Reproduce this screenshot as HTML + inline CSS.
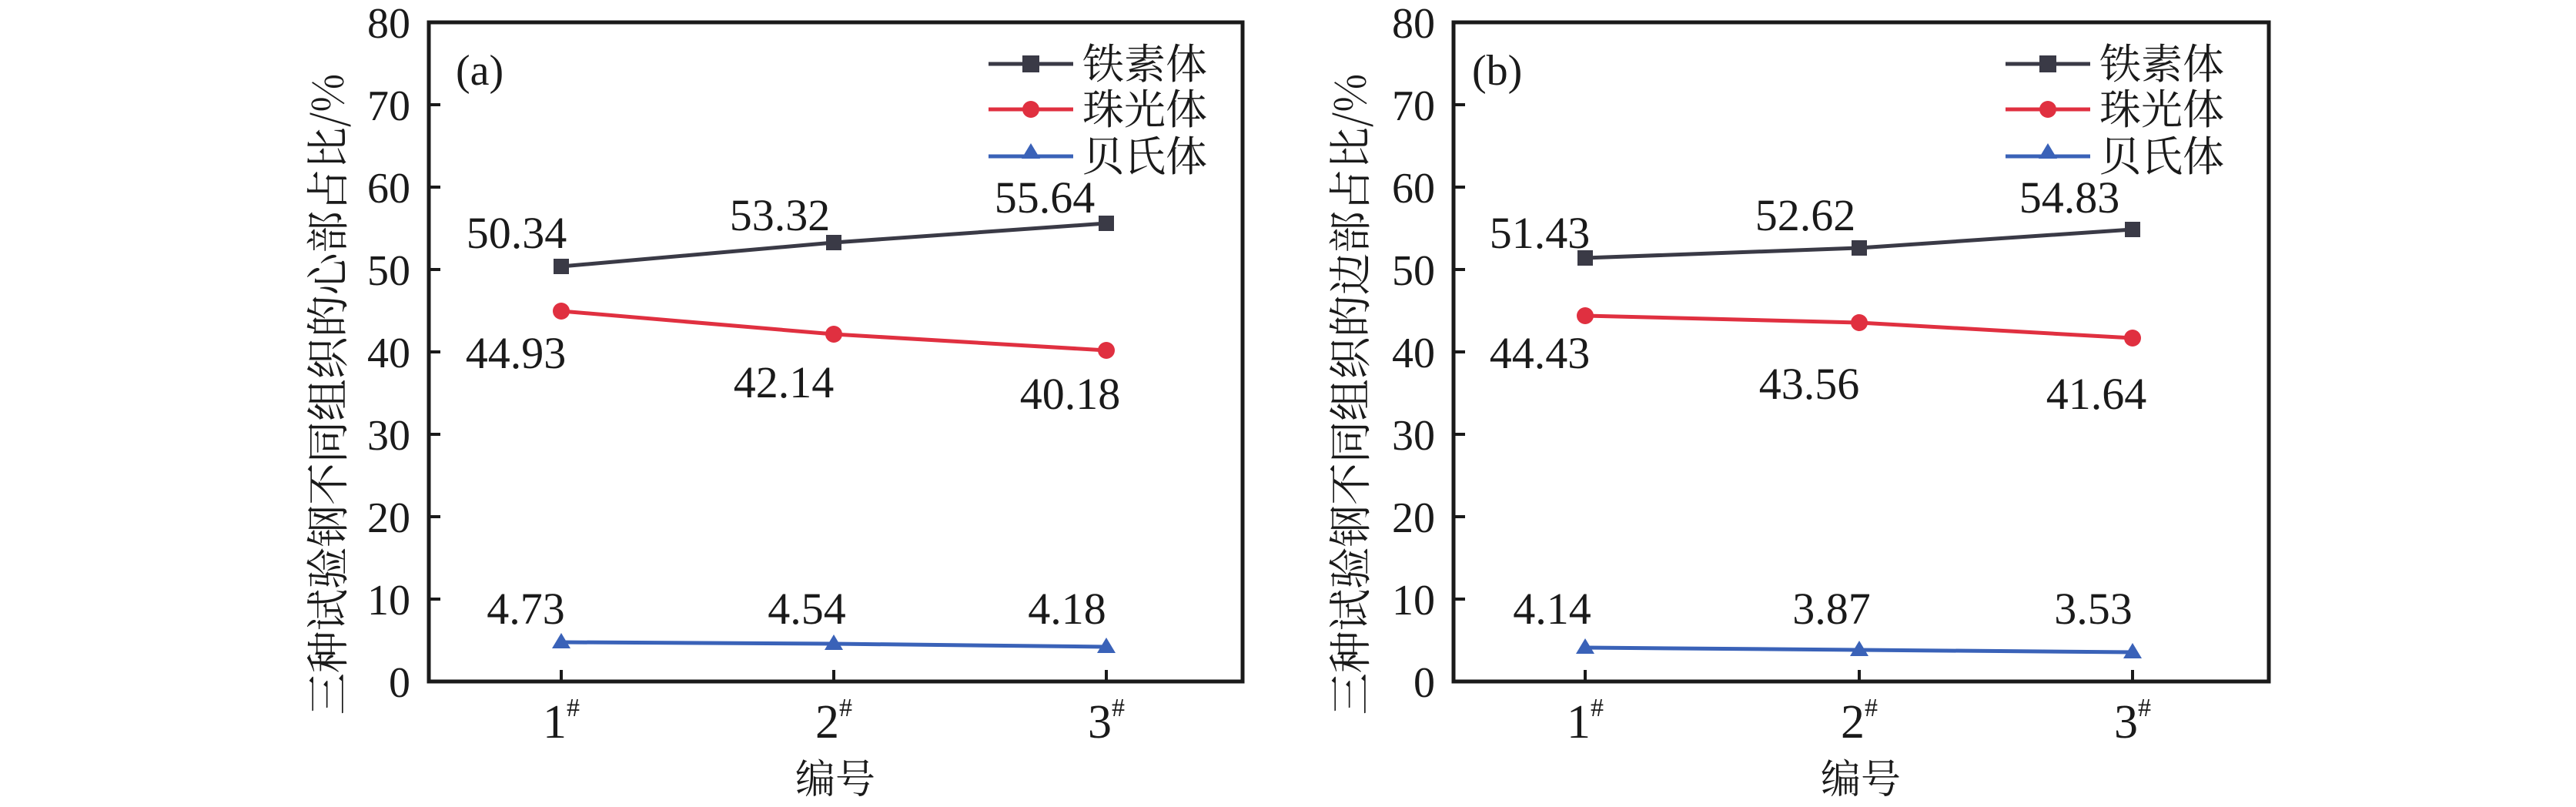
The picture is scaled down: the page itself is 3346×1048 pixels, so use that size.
<!DOCTYPE html>
<html><head><meta charset="utf-8"><style>
html,body{margin:0;padding:0;background:#fff;}
svg{display:block;}
svg text{font-family:"Liberation Serif","Times New Roman",serif;fill:#1a1a1a;}
svg text.cjk{font-family:"Noto Serif CJK SC","Liberation Serif",serif;}
</style></head><body>
<svg width="3346" height="1048" viewBox="0 0 3346 1048" xmlns="http://www.w3.org/2000/svg">
<!-- Panel A -->
<g>
<rect x="557" y="29" width="1057" height="856" fill="none" stroke="#1a1a1a" stroke-width="5"/>
<g stroke="#1a1a1a" stroke-width="4">
<line x1="557" y1="778" x2="572" y2="778"/><line x1="557" y1="671" x2="572" y2="671"/><line x1="557" y1="564" x2="572" y2="564"/><line x1="557" y1="457" x2="572" y2="457"/><line x1="557" y1="350" x2="572" y2="350"/><line x1="557" y1="243" x2="572" y2="243"/><line x1="557" y1="136" x2="572" y2="136"/>
<line x1="729" y1="885" x2="729" y2="870"/><line x1="1083" y1="885" x2="1083" y2="870"/><line x1="1437" y1="885" x2="1437" y2="870"/>
</g>
<g font-size="56" text-anchor="end">
<text x="533" y="905">0</text><text x="533" y="798">10</text><text x="533" y="691">20</text><text x="533" y="584">30</text><text x="533" y="477">40</text><text x="533" y="370">50</text><text x="533" y="263">60</text><text x="533" y="156">70</text><text x="533" y="49">80</text>
</g>
<g font-size="62" text-anchor="middle">
<text x="729" y="958">1<tspan font-size="34" dy="-28">#</tspan></text>
<text x="1083" y="958">2<tspan font-size="34" dy="-28">#</tspan></text>
<text x="1437" y="958">3<tspan font-size="34" dy="-28">#</tspan></text>
</g>
<text class="cjk" x="1085" y="1030" font-size="52" text-anchor="middle">编号</text>
<text class="cjk" transform="translate(446,512) rotate(-90)" font-size="56" text-anchor="middle" textLength="833" lengthAdjust="spacingAndGlyphs">三种试验钢不同组织的心部占比/%</text>
<text x="592" y="110" font-size="56">(a)</text>
<polyline points="729,346 1083,315 1437,290" fill="none" stroke="#3a3a46" stroke-width="5"/>
<polyline points="729,404 1083,434 1437,455" fill="none" stroke="#e03040" stroke-width="5"/>
<polyline points="729,834 1083,836 1437,840" fill="none" stroke="#3a62b8" stroke-width="5"/>
<g fill="#3a3a46"><rect x="719" y="336" width="20" height="20"/><rect x="1073" y="305" width="20" height="20"/><rect x="1427" y="280" width="20" height="20"/></g>
<g fill="#e03040"><circle cx="729" cy="404" r="11"/><circle cx="1083" cy="434" r="11"/><circle cx="1437" cy="455" r="11"/></g>
<g fill="#3a62b8"><polygon points="729,822 741,842 717,842"/><polygon points="1083,824 1095,844 1071,844"/><polygon points="1437,828 1449,848 1425,848"/></g>
<g font-size="58" text-anchor="middle">
<text x="671" y="322">50.34</text><text x="1013" y="299">53.32</text><text x="1357" y="276">55.64</text>
<text x="670" y="478">44.93</text><text x="1018" y="516">42.14</text><text x="1390" y="531">40.18</text>
<text x="683" y="810">4.73</text><text x="1048" y="810">4.54</text><text x="1386" y="810">4.18</text>
</g>
<line x1="1284" y1="83" x2="1394" y2="83" stroke="#3a3a46" stroke-width="5"/><rect x="1328" y="72" width="22" height="22" fill="#3a3a46"/>
<line x1="1284" y1="142" x2="1394" y2="142" stroke="#e03040" stroke-width="5"/><circle cx="1339" cy="142" r="11" fill="#e03040"/>
<line x1="1284" y1="203" x2="1394" y2="203" stroke="#3a62b8" stroke-width="5"/><polygon points="1339,186 1351,206 1327,206" fill="#3a62b8"/>
<g font-size="54"><text class="cjk" x="1406" y="102">铁素体</text><text class="cjk" x="1406" y="161">珠光体</text><text class="cjk" x="1406" y="222">贝氏体</text></g>
</g>
<!-- Panel B -->
<g>
<rect x="1888" y="29" width="1059" height="856" fill="none" stroke="#1a1a1a" stroke-width="5"/>
<g stroke="#1a1a1a" stroke-width="4">
<line x1="1888" y1="778" x2="1903" y2="778"/><line x1="1888" y1="671" x2="1903" y2="671"/><line x1="1888" y1="564" x2="1903" y2="564"/><line x1="1888" y1="457" x2="1903" y2="457"/><line x1="1888" y1="350" x2="1903" y2="350"/><line x1="1888" y1="243" x2="1903" y2="243"/><line x1="1888" y1="136" x2="1903" y2="136"/>
<line x1="2059" y1="885" x2="2059" y2="870"/><line x1="2415" y1="885" x2="2415" y2="870"/><line x1="2770" y1="885" x2="2770" y2="870"/>
</g>
<g font-size="56" text-anchor="end">
<text x="1864" y="905">0</text><text x="1864" y="798">10</text><text x="1864" y="691">20</text><text x="1864" y="584">30</text><text x="1864" y="477">40</text><text x="1864" y="370">50</text><text x="1864" y="263">60</text><text x="1864" y="156">70</text><text x="1864" y="49">80</text>
</g>
<g font-size="62" text-anchor="middle">
<text x="2059" y="958">1<tspan font-size="34" dy="-28">#</tspan></text>
<text x="2415" y="958">2<tspan font-size="34" dy="-28">#</tspan></text>
<text x="2770" y="958">3<tspan font-size="34" dy="-28">#</tspan></text>
</g>
<text class="cjk" x="2417" y="1030" font-size="52" text-anchor="middle">编号</text>
<text class="cjk" transform="translate(1774,512) rotate(-90)" font-size="56" text-anchor="middle" textLength="833" lengthAdjust="spacingAndGlyphs">三种试验钢不同组织的边部占比/%</text>
<text x="1912" y="110" font-size="56">(b)</text>
<polyline points="2059,335 2415,322 2770,298" fill="none" stroke="#3a3a46" stroke-width="5"/>
<polyline points="2059,410 2415,419 2770,439" fill="none" stroke="#e03040" stroke-width="5"/>
<polyline points="2059,841 2415,844 2770,847" fill="none" stroke="#3a62b8" stroke-width="5"/>
<g fill="#3a3a46"><rect x="2049" y="325" width="20" height="20"/><rect x="2405" y="312" width="20" height="20"/><rect x="2760" y="288" width="20" height="20"/></g>
<g fill="#e03040"><circle cx="2059" cy="410" r="11"/><circle cx="2415" cy="419" r="11"/><circle cx="2770" cy="439" r="11"/></g>
<g fill="#3a62b8"><polygon points="2059,829 2071,849 2047,849"/><polygon points="2415,832 2427,852 2403,852"/><polygon points="2770,835 2782,855 2758,855"/></g>
<g font-size="58" text-anchor="middle">
<text x="2000" y="322">51.43</text><text x="2345" y="299">52.62</text><text x="2688" y="276">54.83</text>
<text x="2000" y="478">44.43</text><text x="2350" y="518">43.56</text><text x="2723" y="531">41.64</text>
<text x="2016" y="810">4.14</text><text x="2379" y="810">3.87</text><text x="2719" y="810">3.53</text>
</g>
<line x1="2605" y1="83" x2="2715" y2="83" stroke="#3a3a46" stroke-width="5"/><rect x="2649" y="72" width="22" height="22" fill="#3a3a46"/>
<line x1="2605" y1="142" x2="2715" y2="142" stroke="#e03040" stroke-width="5"/><circle cx="2660" cy="142" r="11" fill="#e03040"/>
<line x1="2605" y1="203" x2="2715" y2="203" stroke="#3a62b8" stroke-width="5"/><polygon points="2660,186 2672,206 2648,206" fill="#3a62b8"/>
<g font-size="54"><text class="cjk" x="2727" y="102">铁素体</text><text class="cjk" x="2727" y="161">珠光体</text><text class="cjk" x="2727" y="222">贝氏体</text></g>
</g>
</svg>
</body></html>
